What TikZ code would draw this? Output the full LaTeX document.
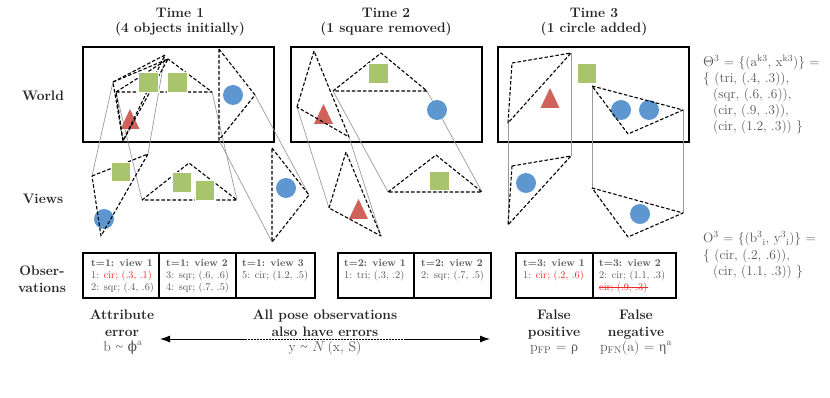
\documentclass[tikz,border=0pt]{standalone}
\usepackage{fontspec}
\newfontfamily\grk{Liberation Serif}
\newfontfamily\grkd{DejaVu Serif}
\usetikzlibrary{arrows.meta,calc}
\definecolor{sqg}{RGB}{168,196,108}
\definecolor{cblue}{RGB}{94,151,208}
\definecolor{tred}{RGB}{208,98,92}
\definecolor{raygray}{RGB}{155,155,155}
\definecolor{txgray}{RGB}{85,85,85}
\definecolor{hdark}{RGB}{35,35,35}
\definecolor{errred}{RGB}{240,40,40}
\newcommand\ttlf{\fontsize{13.8}{16}\selectfont\bfseries}
\newcommand\obsf{\fontsize{10.3}{12}\selectfont}
\newcommand\setf{\fontsize{13.5}{16}\selectfont}
\newcommand\frmf{\fontsize{14}{16}\selectfont}
\newcommand\smtilde{{\grk\char"7E}}
\begin{document}
\begin{tikzpicture}[x=1pt,y=-1pt,
  worldbox/.style={draw=black, line width=2.6pt, inner sep=0pt, outer sep=0pt, minimum width=191pt, minimum height=95pt},
  obsbox/.style={draw=black, line width=1.3pt, inner sep=0pt, outer sep=0pt, minimum height=45pt},
  sqobj/.style={fill=sqg, draw=white, line width=0.5pt, minimum size=19.5pt, inner sep=0pt},
  cirobj/.style={circle, fill=cblue, minimum size=20pt, inner sep=0pt},
  frust/.style={draw=black, line width=1.1pt, dash pattern=on 3.5pt off 2pt, line join=round},
  ray/.style={draw=raygray, line width=0.7pt},
  ttl/.style={font=\ttlf, text=hdark, inner sep=0pt, anchor=base},
  obst/.style={font=\obsf, text=txgray, inner sep=0pt, anchor=base west},
  sett/.style={font=\setf, text=txgray, inner sep=0pt, anchor=base west},
  frm/.style={font=\frmf, text=txgray, inner sep=0pt, anchor=base},
  redtri/.pic={\fill[tred] (0,-10) -- (9.5,10) -- (-9.5,10) -- cycle;}
]
\useasboundingbox (0,0) rectangle (830,398);

% ---------- titles ----------
\node[ttl] (h1a) at (180,18) {Time 1};
\node[ttl] (h1b) at (180,33) {(4 objects initially)};
\node[ttl] (h2a) at (386,18) {Time 2};
\node[ttl] (h2b) at (386,33) {(1 square removed)};
\node[ttl] (h3a) at (594,18) {Time 3};
\node[ttl] (h3b) at (594,33) {(1 circle added)};

% ---------- row labels ----------
\node[ttl] (rw) at (43,101) {World};
\node[ttl] (rv) at (43,204) {Views};
\node[ttl] (ro1) at (42,275) {Obser-};
\node[ttl] (ro2) at (42,292) {vations};

% ---------- world boxes ----------
\node[worldbox] (w1) at (178.5,94.5) {};
\node[worldbox] (w2) at (386.5,94.5) {};
\node[worldbox] (w3) at (593.5,94.5) {};

% ---------- frustum vertices ----------
\coordinate (A1) at (113,82);  \coordinate (A2) at (165,55);  \coordinate (A3) at (123,141);
\coordinate (B1) at (116,92);  \coordinate (B2) at (168,59);  \coordinate (B3) at (212,92);
\coordinate (E1) at (219,49);  \coordinate (E2) at (255,95);  \coordinate (E3) at (219,140);
\coordinate (vA1) at (92,176); \coordinate (vA2) at (148,154); \coordinate (vA3) at (101,236);
\coordinate (vB1) at (142,200); \coordinate (vB2) at (189,163); \coordinate (vB3) at (237,200);
\coordinate (vE1) at (272,148); \coordinate (vE2) at (309,195); \coordinate (vE3) at (272,242);
\coordinate (C1) at (297,107); \coordinate (C2) at (314,51); \coordinate (C3) at (349,137);
\coordinate (D1) at (333,91);  \coordinate (D2) at (381,53); \coordinate (D3) at (427,91);
\coordinate (vC1) at (329,208); \coordinate (vC2) at (346,152); \coordinate (vC3) at (381,236);
\coordinate (vD1) at (388,192); \coordinate (vD2) at (436,155); \coordinate (vD3) at (482,192);
\coordinate (F1) at (512,63);  \coordinate (F2) at (571,53);  \coordinate (F3) at (508,123);
\coordinate (G1) at (592,86);  \coordinate (G2) at (683,110); \coordinate (G3) at (628,134);
\coordinate (vF1) at (512,166); \coordinate (vF2) at (571,156); \coordinate (vF3) at (508,225);
\coordinate (vG1) at (592,188); \coordinate (vG2) at (683,213); \coordinate (vG3) at (628,237);

% ---------- grey rays ----------
\foreach \a/\b in {A1/vA1,A2/vA2,B1/vB1,B3/vB3,E2/vE2,E3/vE3,C1/vC1,C3/vC3,D1/vD1,D3/vD3,F2/vF2,F3/vF3,G1/vG1,G2/vG2}
  \draw[ray] (\a) -- (\b);

% ---------- circles and triangles ----------
\node[cirobj] (c1) at (233,95) {};
\node[cirobj] (c2) at (104,219) {};
\node[cirobj] (c3) at (286,188) {};
\node[cirobj] (c4) at (437,110) {};
\node[cirobj] (c5) at (621,110) {};
\node[cirobj] (c6) at (649,110) {};
\node[cirobj] (c7) at (526,183) {};
\node[cirobj] (c8) at (640,214) {};
\path (130,119) pic {redtri};
\path (323.5,114) pic {redtri};
\path (358.5,209) pic {redtri};
\path (550,98) pic {redtri};

% ---------- frustums ----------
\foreach \p/\q/\r in {A1/A2/A3,B1/B2/B3,E1/E2/E3,vA1/vA2/vA3,vB1/vB2/vB3,vE1/vE2/vE3,C1/C2/C3,D1/D2/D3,vC1/vC2/vC3,vD1/vD2/vD3,F1/F2/F3,G1/G2/G3,vF1/vF2/vF3,vG1/vG2/vG3}
  \draw[frust] (\p) -- (\q) -- (\r) -- cycle;
\draw[frust] (A1) -- (B2) -- (A3) -- (B1);

% ---------- squares ----------
\node[sqobj] (s1) at (148,82.5) {};
\node[sqobj] (s2) at (177,82.5) {};
\node[sqobj] (s3) at (120.5,172) {};
\node[sqobj] (s4) at (181.5,182.5) {};
\node[sqobj] (s5) at (204.5,190.5) {};
\node[sqobj] (s6) at (378,73.5) {};
\node[sqobj] (s7) at (439,181) {};
\node[sqobj] (s8) at (586.5,73.5) {};

% ---------- set texts ----------
\node[sett] (th0) at (703,67) {$\Theta$\textsuperscript{3} = \{(a\textsuperscript{k3}, x\textsuperscript{k3})\} =};
\node[sett] (th1) at (703,83) {\{ (tri, (.4, .3)),};
\node[sett] (th2) at (713,99) {(sqr, (.6, .6)),};
\node[sett] (th3) at (713,115) {(cir, (.9, .3)),};
\node[sett] (th4) at (713,131) {(cir, (1.2, .3)) \}};
\node[sett] (ob0) at (703,243) {O\textsuperscript{3} = \{(b\textsuperscript{3}\textsubscript{i}, y\textsuperscript{3}\textsubscript{i})\} =};
\node[sett] (ob1) at (703,259) {\{ (cir, (.2, .6)),};
\node[sett] (ob2) at (713,275) {(cir, (1.1, .3)) \}};

% ---------- observation boxes ----------
\node[obsbox, minimum width=76pt] (o1) at (121,275.5) {};
\node[obsbox, minimum width=77pt] (o2) at (197.5,275.5) {};
\node[obsbox, minimum width=79pt] (o3) at (275.5,275.5) {};
\node[obsbox, minimum width=76pt] (o4) at (376,275.5) {};
\node[obsbox, minimum width=77pt] (o5) at (452.5,275.5) {};
\node[obsbox, minimum width=77pt] (o6) at (554.5,275.5) {};
\node[obsbox, minimum width=83pt] (o7) at (634.5,275.5) {};

\node[obst] (o1a) at ($(o1.north west)+(8,13)$) {\textbf{t=1: view 1}};
\node[obst] (o1b) at ($(o1.north west)+(8,25.5)$) {1: \textcolor{errred}{cir; (.3, .1)}};
\node[obst] (o1c) at ($(o1.north west)+(8,37.5)$) {2: sqr; (.4, .6)};
\node[obst] (o2a) at ($(o2.north west)+(7,13)$) {\textbf{t=1: view 2}};
\node[obst] (o2b) at ($(o2.north west)+(7,25.5)$) {3: sqr; (.6, .6)};
\node[obst] (o2c) at ($(o2.north west)+(7,37.5)$) {4: sqr; (.7, .5)};
\node[obst] (o3a) at ($(o3.north west)+(6,13)$) {\textbf{t=1: view 3}};
\node[obst] (o3b) at ($(o3.north west)+(6,25.5)$) {5: cir; (1.2, .5)};
\node[obst] (o4a) at ($(o4.north west)+(6,13)$) {\textbf{t=2: view 1}};
\node[obst] (o4b) at ($(o4.north west)+(6,25.5)$) {1: tri; (.3, .2)};
\node[obst] (o5a) at ($(o5.north west)+(7,13)$) {\textbf{t=2: view 2}};
\node[obst] (o5b) at ($(o5.north west)+(7,25.5)$) {2: sqr; (.7, .5)};
\node[obst] (o6a) at ($(o6.north west)+(7,13)$) {\textbf{t=3: view 1}};
\node[obst] (o6b) at ($(o6.north west)+(7,25.5)$) {1: \textcolor{errred}{cir; (.2, .6)}};
\node[obst] (o7a) at ($(o7.north west)+(6,13)$) {\textbf{t=3: view 2}};
\node[obst] (o7b) at ($(o7.north west)+(6,25.5)$) {2: cir; (1.1, .3)};
\node[obst, text=errred] (o7c) at ($(o7.north west)+(6,37.5)$) {cir; (.9, .3)};
\draw[errred, line width=0.6pt] ($(o7c.base west)+(0,-3)$) -- ($(o7c.base east)+(0,-3)$);

% ---------- bottom annotations ----------
\node[ttl] (ae1) at (122,319) {Attribute};
\node[ttl] (ae2) at (122,336) {error};
\node[frm] (ae3) at (123,351) {b \smtilde\ {\grkd ϕ}\textsuperscript{a}};
\node[ttl] (pe1) at (325,319) {All pose observations};
\node[ttl] (pe2) at (325,336) {also have errors};
\node[frm] (pe3) at (325,351) {y \smtilde\ $N$\,(x, S)};
\node[ttl] (fp1) at (554,319) {False};
\node[ttl] (fp2) at (554,336) {positive};
\node[frm] (fp3) at (554,351) {p\textsubscript{FP} = {\grk ρ}};
\node[ttl] (fn1) at (636,319) {False};
\node[ttl] (fn2) at (636,336) {negative};
\node[frm] (fn3) at (636,351) {p\textsubscript{FN}(a) = {\grk η}\textsuperscript{a}};

\coordinate (arL) at (160,339);
\coordinate (arR) at (490,339);
\coordinate (mL) at (247,339);
\coordinate (mR) at (405,339);
\draw[line width=1pt, {Latex[length=10pt,width=7pt]}-{Latex[length=10pt,width=7pt]}] (arL) -- (arR);
\draw[white, line width=1.4pt, dash pattern=on 1.2pt off 1.8pt] (mL) -- (mR);
\end{tikzpicture}
\end{document}
